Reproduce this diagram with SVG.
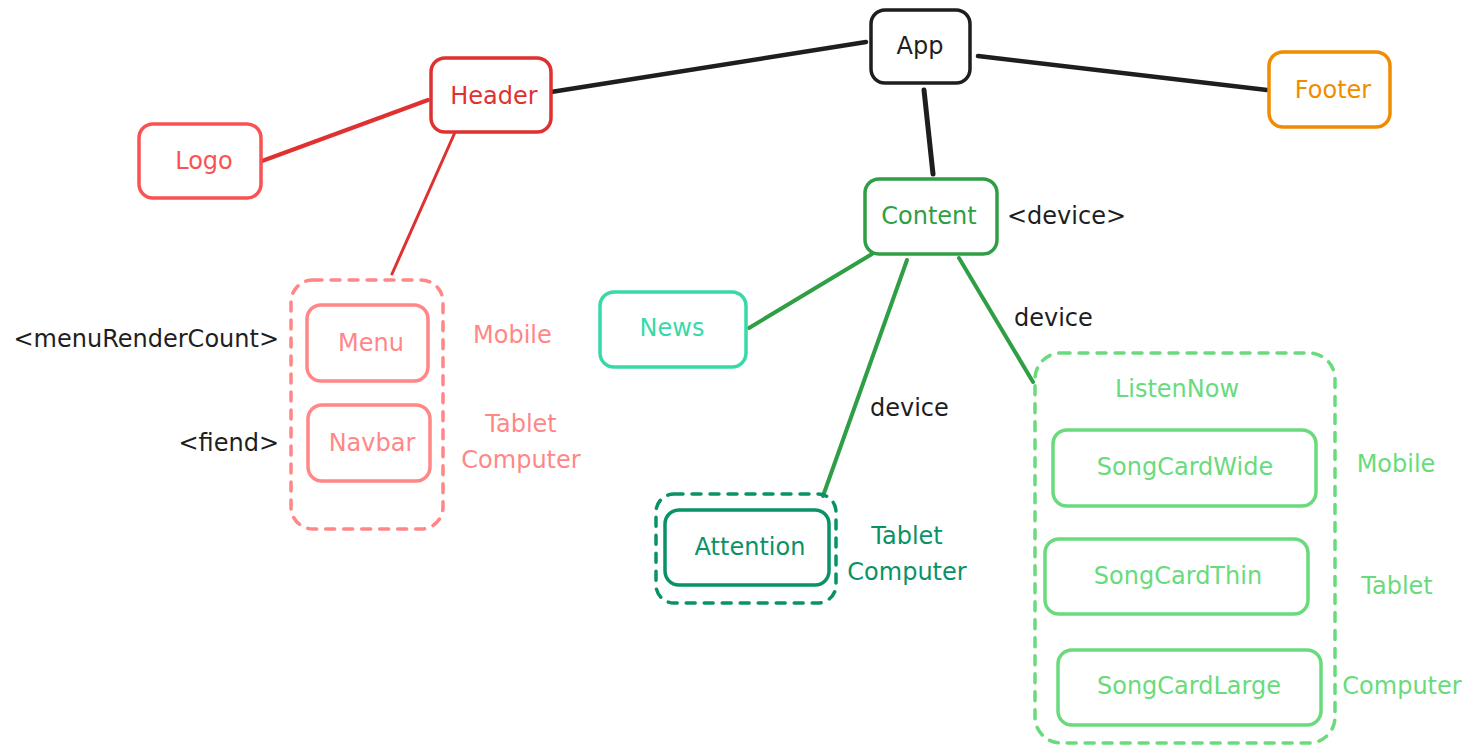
<svg xmlns="http://www.w3.org/2000/svg" width="1475" height="754" viewBox="0 0 1475 754">
<style>
text{font-family:"DejaVu Sans","Liberation Sans",Arial,sans-serif;font-size:24px;dominant-baseline:central}
.c{text-anchor:middle}
.box{fill:#fff;stroke-width:3.5;stroke-linecap:round}
.dash{fill:none;stroke-width:3.5;stroke-dasharray:9 9;stroke-linecap:round}
.ln{fill:none;stroke-linecap:round}
</style>
<rect x="0" y="0" width="1475" height="754" fill="#fff"/>
<g id="connectors">
<line class="ln" x1="866" y1="42" x2="551" y2="92" stroke="#1e1e1e" stroke-width="4.5"/>
<line class="ln" x1="978" y1="56" x2="1267" y2="90" stroke="#1e1e1e" stroke-width="4.5"/>
<line class="ln" x1="924" y1="90" x2="933" y2="174" stroke="#1e1e1e" stroke-width="5"/>
<line class="ln" x1="428" y1="100" x2="262" y2="161" stroke="#e03131" stroke-width="4"/>
<line class="ln" x1="456" y1="130" x2="392" y2="274" stroke="#e03131" stroke-width="3"/>
<line class="ln" x1="872" y1="254" x2="749" y2="328" stroke="#2f9e44" stroke-width="4"/>
<line class="ln" x1="907" y1="260" x2="823" y2="496" stroke="#2f9e44" stroke-width="4"/>
<line class="ln" x1="959" y1="258" x2="1033" y2="382" stroke="#2f9e44" stroke-width="4"/>
</g>
<g id="app"><rect class="box" x="871" y="10" width="99" height="73" rx="14" stroke="#1e1e1e"/><text class="c" x="920" y="46" fill="#1e1e1e">App</text></g>
<g id="header"><rect class="box" x="431" y="58" width="120" height="74" rx="14" stroke="#e03131"/><text class="c" x="494" y="96" fill="#e03131">Header</text></g>
<g id="logo"><rect class="box" x="139" y="124" width="122" height="74" rx="14" stroke="#fa5252"/><text class="c" x="204" y="161" fill="#fa5252">Logo</text></g>
<g id="footer"><rect class="box" x="1269" y="52" width="121" height="75" rx="14" stroke="#f08c00"/><text class="c" x="1333" y="90" fill="#f08c00">Footer</text></g>
<g id="content"><rect class="box" x="865" y="179" width="132" height="75" rx="14" stroke="#2f9e44"/><text class="c" x="929" y="216" fill="#2f9e44">Content</text></g>
<g id="content-label"><text x="1007" y="216" fill="#1e1e1e">&lt;device&gt;</text></g>
<g id="news"><rect class="box" x="600" y="292" width="146" height="75" rx="14" stroke="#38d9a9"/><text class="c" x="672" y="328" fill="#38d9a9">News</text></g>
<g id="menu-group"><rect class="dash" x="291" y="280" width="152" height="249" rx="22" stroke="#ff8787"/></g>
<g id="menu"><rect class="box" x="307" y="305" width="121" height="76" rx="14" stroke="#ff8787"/><text class="c" x="371" y="343" fill="#ff8787">Menu</text></g>
<g id="navbar"><rect class="box" x="308" y="405" width="122" height="76" rx="14" stroke="#ff8787"/><text class="c" x="372" y="443" fill="#ff8787">Navbar</text></g>
<g id="menu-labels">
<text x="279" y="339" fill="#1e1e1e" text-anchor="end">&lt;menuRenderCount&gt;</text>
<text x="279" y="443" fill="#1e1e1e" text-anchor="end">&lt;fiend&gt;</text>
<text x="473" y="335" fill="#ff8787">Mobile</text>
<text class="c" x="521" y="424" fill="#ff8787">Tablet</text>
<text class="c" x="521" y="460" fill="#ff8787">Computer</text>
</g>
<g id="attention">
<rect class="dash" x="656" y="494" width="180" height="109" rx="18" stroke="#099268"/>
<rect class="box" x="665" y="510" width="164" height="75" rx="14" stroke="#099268"/>
<text class="c" x="750" y="547" fill="#099268">Attention</text>
<text class="c" x="907" y="536" fill="#099268">Tablet</text>
<text class="c" x="907" y="572" fill="#099268">Computer</text>
</g>
<g id="edge-labels">
<text x="870" y="408" fill="#1e1e1e">device</text>
<text x="1014" y="318" fill="#1e1e1e">device</text>
</g>
<g id="listennow">
<rect class="dash" x="1035" y="353" width="300" height="390" rx="26" stroke="#69db7c"/>
<text class="c" x="1177" y="389" fill="#69db7c">ListenNow</text>
</g>
<g id="songcardwide"><rect class="box" x="1053" y="430" width="263" height="76" rx="14" stroke="#69db7c"/><text class="c" x="1185" y="467" fill="#69db7c">SongCardWide</text></g>
<g id="songcardthin"><rect class="box" x="1045" y="539" width="263" height="75" rx="14" stroke="#69db7c"/><text class="c" x="1178" y="576" fill="#69db7c">SongCardThin</text></g>
<g id="songcardlarge"><rect class="box" x="1058" y="650" width="263" height="75" rx="14" stroke="#69db7c"/><text class="c" x="1189" y="686" fill="#69db7c">SongCardLarge</text></g>
<g id="listennow-labels">
<text class="c" x="1396" y="464" fill="#69db7c">Mobile</text>
<text class="c" x="1397" y="586" fill="#69db7c">Tablet</text>
<text class="c" x="1402" y="686" fill="#69db7c">Computer</text>
</g>
</svg>
